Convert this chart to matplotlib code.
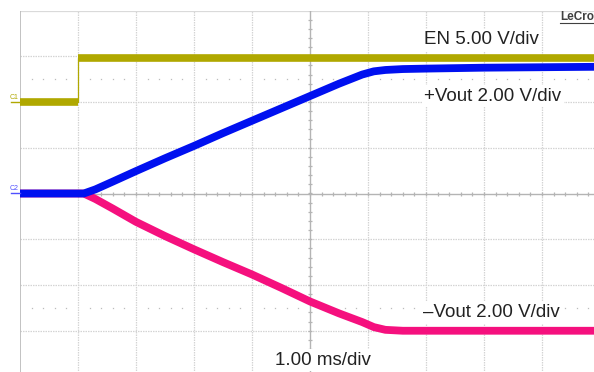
import numpy as np
import matplotlib
matplotlib.use("Agg")
import matplotlib.pyplot as plt

plt.rcParams['font.family'] = ['Liberation Sans', 'DejaVu Sans']

# time in ms (1 ms/div, 10 divisions on screen)
t_en = [0.0, 1.0, 1.0, 10.0]
v_en = [0.0, 0.0, 4.8, 4.8]          # volts, 5 V/div, ground at +2 div

t_pos = [0.0, 1.1, 1.3, 1.6, 2.0, 2.5, 3.0, 3.5, 4.0, 4.5, 5.0, 5.5, 5.9, 6.1, 6.3, 6.6, 7.0, 8.0, 9.0, 10.0]
v_pos = [0.0, 0.0, 0.18, 0.52, 0.98, 1.54, 2.08, 2.64, 3.18, 3.72, 4.26, 4.8, 5.2, 5.34, 5.4, 5.44, 5.46, 5.5, 5.52, 5.54]

t_neg = [0.0, 1.1, 1.3, 1.6, 2.0, 2.5, 3.0, 3.5, 4.0, 4.5, 5.0, 5.5, 5.9, 6.1, 6.3, 6.6, 7.0, 8.0, 9.0, 10.0]
v_neg = [0.0, 0.0, -0.24, -0.66, -1.24, -1.86, -2.44, -3.0, -3.54, -4.12, -4.72, -5.24, -5.62, -5.84, -5.96, -6.0, -6.0, -6.0, -6.0, -6.0]

en_scale, en_offset = 5.0, 2.0
out_scale = 2.0

c_en = '#b0a800'
c_pos = '#0010f0'
c_neg = '#f5107e'

fig = plt.figure(figsize=(5.94, 3.72), dpi=100)
W, H = 594, 372
# screen grid: left 20px, 58 px/div ; top 10.5px, 45.75 px/div (cropped at right/bottom)
ax = fig.add_axes([20 / W, 1 - 376.5 / H, 580 / W, 366 / H])
ax.set_xlim(0, 10)
ax.set_ylim(-4, 4)
for s in ax.spines.values():
    s.set_visible(False)
ax.set_xticks([])
ax.set_yticks([])

# graticule
gc = '#d4d4d4'
for x in range(1, 10):
    if x != 5:
        ax.axvline(x, color=gc, lw=0.9, ls=(0, (1.2, 0.8)), zorder=1)
for y in range(-3, 4):
    if y != 0:
        ax.axhline(y, color=gc, lw=0.9, ls=(0, (1.2, 0.8)), zorder=1)
ax.axhline(4, color='#dadada', lw=1.6, zorder=1)
ax.axvline(0, color='#bdbdbd', lw=1.3, zorder=1)
ax.axhline(0, color='#b4b4b4', lw=1.0, zorder=1)
ax.axvline(5, color='#b4b4b4', lw=1.0, zorder=1)
minor = np.arange(0, 10.01, 0.2)
ax.plot(minor, np.zeros_like(minor), ls='none', marker='|', ms=3, mew=0.9, color='#b4b4b4', zorder=1)
minor_y = np.arange(-4, 4.01, 0.2)
ax.plot(np.full_like(minor_y, 5), minor_y, ls='none', marker='_', ms=3, mew=0.9, color='#b4b4b4', zorder=1)
dots = np.array([x for x in minor if abs(x - round(x)) > 0.05])
for yy in (2.5, -2.5):
    ax.plot(dots, np.full_like(dots, yy), ls='none', marker='s', ms=0.9, mew=0, color='#bcbcbc', zorder=1)

# traces
y_en = np.array(v_en) / en_scale + en_offset
ax.plot(t_en, y_en, color=c_en, lw=0.9, zorder=3)
for i in range(len(t_en) - 1):
    if y_en[i] == y_en[i + 1]:
        ax.plot(t_en[i:i + 2], y_en[i:i + 2], color=c_en, lw=5.5, solid_capstyle='butt', zorder=3)
ax.plot(t_neg, np.array(v_neg) / out_scale, color=c_neg, lw=5.6, solid_capstyle='butt',
        solid_joinstyle='round', zorder=3)
ax.plot(t_pos, np.array(v_pos) / out_scale, color=c_pos, lw=5.6, solid_capstyle='butt',
        solid_joinstyle='round', zorder=4)

# labels
box = dict(boxstyle='square,pad=0.12', fc='white', ec='none')
fs = 13.5
ax.text(6.97, 3.26, 'EN 5.00 V/div', fontsize=fs, color='#222222', va='baseline', bbox=box, zorder=5)
ax.text(6.97, 2.03, '+Vout 2.00 V/div', fontsize=fs, color='#222222', va='baseline', bbox=box, zorder=5)
ax.text(6.95, -2.71, '\u2013Vout 2.00 V/div', fontsize=fs, color='#222222', va='baseline', bbox=box, zorder=5)
ax.text(4.40, -3.74, '1.00 ms/div', fontsize=fs, color='#222222', va='baseline', bbox=box, zorder=5)

# channel markers on the left
fig.text(10 / W, 1 - 99 / H, 'C1', fontsize=5, color=c_en, va='baseline')
fig.add_artist(plt.Line2D([11 / W, 20 / W], [1 - 101.5 / H, 1 - 101.5 / H], color=c_en, lw=1))
fig.text(10 / W, 1 - 190.5 / H, 'C2', fontsize=5, color='#5050ff', va='baseline')
fig.add_artist(plt.Line2D([11 / W, 20 / W], [1 - 193 / H, 1 - 193 / H], color='#5050ff', lw=1))

# brand (cut by the screen edge, as on the scope capture)
fig.text(560 / W, 1 - 20 / H, 'LeCroy', fontsize=8.5, color='#404040', weight='bold', va='baseline')
fig.add_artist(plt.Line2D([560 / W, 1.0], [1 - 22.5 / H, 1 - 22.5 / H], color='#404040', lw=0.8))

fig.savefig('out.png', dpi=100)
